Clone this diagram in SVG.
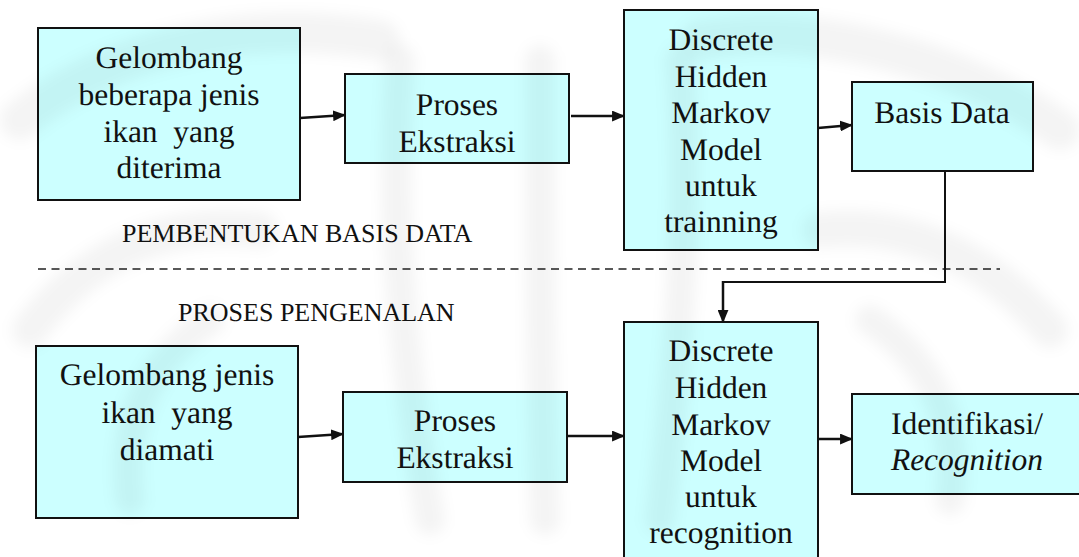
<svg xmlns="http://www.w3.org/2000/svg" width="1079" height="557" viewBox="0 0 1079 557">
  <style>
    .box { fill: #ccffff; stroke: #111; stroke-width: 2; }
    .lbl { font-family: "Liberation Serif", "Times New Roman", serif; font-size: 31.5px; fill: #111; text-anchor: middle; white-space: pre; text-rendering: geometricPrecision; }
    .cap { font-family: "Liberation Serif", "Times New Roman", serif; font-size: 26px; fill: #111; white-space: pre; text-rendering: geometricPrecision; }
    .arrow { fill: none; stroke: #111; stroke-width: 2.5; marker-end: url(#head); }
    .link { fill: none; stroke: #111; stroke-width: 2; }
    .divider { fill: none; stroke: #222; stroke-width: 1.6; stroke-dasharray: 8 5.5; }
    .wm { fill: none; stroke: #000; stroke-opacity: 0.045; stroke-linecap: round; }
  </style>
  <defs>
    <marker id="head" viewBox="0 0 12 10" refX="11" refY="5" markerWidth="13" markerHeight="11" markerUnits="userSpaceOnUse" orient="auto">
      <path d="M0,0 L12,5 L0,10 z" fill="#111"/>
    </marker>
    <filter id="soft" x="-10%" y="-10%" width="120%" height="120%">
      <feGaussianBlur stdDeviation="7"/>
    </filter>
  </defs>

  <rect x="0" y="0" width="1079" height="557" fill="#fff"/>

  <!-- upper row: database building -->
  <g id="wave-train">
    <rect class="box" x="38" y="28" width="262" height="172"/>
    <text class="lbl" x="169" y="68">Gelombang</text>
    <text class="lbl" x="169" y="105">beberapa jenis</text>
    <text class="lbl" x="169" y="142">ikan  yang</text>
    <text class="lbl" x="169" y="178">diterima</text>
  </g>
  <g id="extract-train">
    <rect class="box" x="345" y="74" width="224" height="89"/>
    <text class="lbl" x="457" y="115">Proses</text>
    <text class="lbl" x="457" y="152">Ekstraksi</text>
  </g>
  <g id="dhmm-train">
    <rect class="box" x="624" y="10" width="194" height="240"/>
    <text class="lbl" x="721" y="50">Discrete</text>
    <text class="lbl" x="721" y="87">Hidden</text>
    <text class="lbl" x="721" y="123">Markov</text>
    <text class="lbl" x="721" y="160">Model</text>
    <text class="lbl" x="721" y="196">untuk</text>
    <text class="lbl" x="721" y="232">trainning</text>
  </g>
  <g id="database">
    <rect class="box" x="852" y="82" width="181" height="89"/>
    <text class="lbl" x="942" y="123">Basis Data</text>
  </g>

  <g id="caption-train">
    <text class="cap" x="122" y="242">PEMBENTUKAN BASIS DATA</text>
  </g>
  <g id="caption-recog">
    <text class="cap" x="178" y="321">PROSES PENGENALAN</text>
  </g>

  <!-- lower row: recognition -->
  <g id="wave-recog">
    <rect class="box" x="36" y="346" width="262" height="172"/>
    <text class="lbl" x="167" y="385">Gelombang jenis</text>
    <text class="lbl" x="167" y="423">ikan  yang</text>
    <text class="lbl" x="167" y="460">diamati</text>
  </g>
  <g id="extract-recog">
    <rect class="box" x="343" y="392" width="224" height="90"/>
    <text class="lbl" x="455" y="431">Proses</text>
    <text class="lbl" x="455" y="468">Ekstraksi</text>
  </g>
  <g id="dhmm-recog">
    <rect class="box" x="624" y="322" width="194" height="245"/>
    <text class="lbl" x="721" y="361">Discrete</text>
    <text class="lbl" x="721" y="398">Hidden</text>
    <text class="lbl" x="721" y="435">Markov</text>
    <text class="lbl" x="721" y="471">Model</text>
    <text class="lbl" x="721" y="507">untuk</text>
    <text class="lbl" x="721" y="543">recognition</text>
  </g>
  <g id="identify">
    <rect class="box" x="852" y="394" width="232" height="100"/>
    <text class="lbl" x="967" y="434">Identifikasi/</text>
    <text class="lbl" x="967" y="470" font-style="italic">Recognition</text>
  </g>

  <!-- connectors -->
  <g id="connectors">
    <line class="divider" x1="38" y1="269" x2="1000" y2="269"/>
    <path class="arrow" d="M300,118 L345,115"/>
    <path class="arrow" d="M571,116 L624,116"/>
    <path class="arrow" d="M818,128 L852,125"/>
    <path class="link" d="M945,171 L945,282 L723,282"/>
    <path class="arrow" d="M723,281 L723,322"/>
    <path class="arrow" d="M298,437 L343,434"/>
    <path class="arrow" d="M567,436 L624,436"/>
    <path class="arrow" d="M818,439 L852,439"/>
  </g>

  <!-- faint background emblem -->
  <g id="emblem" filter="url(#soft)">
    <path class="wm" stroke-width="40" d="M20,120 C120,40 260,20 380,40"/>
    <path class="wm" stroke-width="36" d="M30,330 C90,250 170,220 260,230"/>
    <path class="wm" stroke-width="30" d="M400,60 C390,200 400,350 430,520"/>
    <path class="wm" stroke-width="30" d="M540,60 C540,200 540,350 545,520"/>
    <path class="wm" stroke-width="30" d="M680,60 C690,200 680,350 660,520"/>
    <path class="wm" stroke-width="40" d="M700,40 C820,20 960,60 1060,130"/>
    <path class="wm" stroke-width="36" d="M820,230 C910,220 990,260 1050,330"/>
    <path class="wm" stroke-width="30" d="M870,320 C930,360 960,420 950,500"/>
    <path class="wm" stroke-width="30" d="M210,320 C150,360 120,420 130,500"/>
  </g>
</svg>
